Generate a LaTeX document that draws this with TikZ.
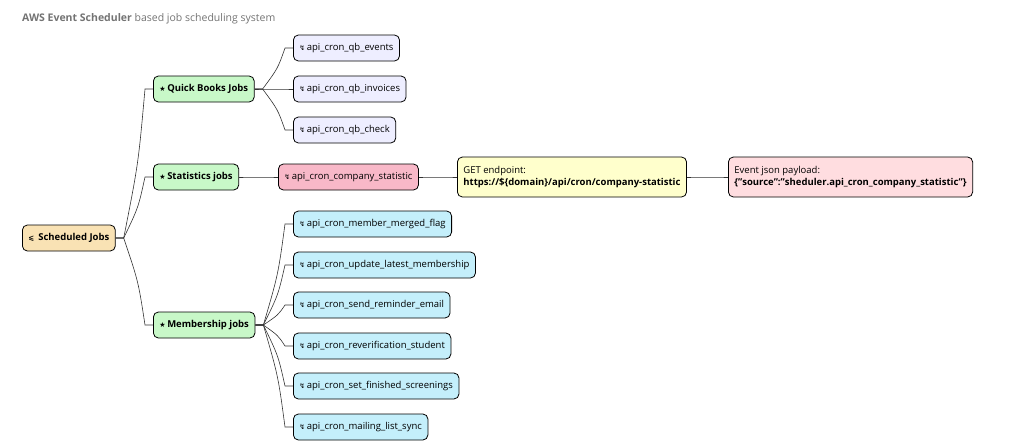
\documentclass[tikz,border=0pt]{standalone}
\usepackage{fontspec}
\setmainfont{Open Sans}
\newfontfamily\symf{DejaVu Sans}
\usetikzlibrary{calc}
\begin{document}
\begin{tikzpicture}[x=1pt,y=-1pt,
 box/.style={draw=black,line width=0.8pt,rounded corners=5pt,anchor=west,font=\fontsize{9.5}{11.5}\selectfont,inner xsep=6pt,minimum height=26pt},
 root/.style={box,fill=rootc,font=\fontsize{9.5}{11.5}\selectfont\bfseries},
 grp/.style={box,fill=grpc,font=\fontsize{9.5}{11.5}\selectfont\bfseries},
 qb/.style={box,fill=qbc},
 mem/.style={box,fill=memc},
 link/.style={line width=0.6pt,draw=black!80}]
\definecolor{rootc}{HTML}{F9E2B4}
\definecolor{grpc}{HTML}{C8F8C8}
\definecolor{qbc}{HTML}{EEEEFF}
\definecolor{memc}{HTML}{C4EFFB}
\definecolor{statc}{HTML}{F8B8C8}
\definecolor{getc}{HTML}{FFFFCC}
\definecolor{evc}{HTML}{FFDDE0}
\useasboundingbox (0,0) rectangle (1024,447);
\newcommand\ic{{\symf\scriptsize ↯}\,}
\newcommand\st{{\symf\scriptsize ★}\,}
\node[anchor=west,text=black!55,font=\fontsize{10.5}{12}\selectfont,inner sep=0pt] (title) at (22,19) {\textbf{AWS Event Scheduler} based job scheduling system};
\node[root] (r) at (22,238) {{\symf\scriptsize ⩽}\, Scheduled Jobs};
\node[grp] (q) at (153,89) {\st Quick Books Jobs};
\node[grp] (s) at (153,177) {\st Statistics jobs};
\node[grp] (m) at (153,325) {\st Membership jobs};
\node[qb] (q1) at (293,48) {\ic api\_cron\_qb\_events};
\node[qb] (q2) at (293,89) {\ic api\_cron\_qb\_invoices};
\node[qb] (q3) at (293,130) {\ic api\_cron\_qb\_check};
\node[box,fill=statc] (s1) at (278,177) {\ic api\_cron\_company\_statistic};
\node[box,fill=getc,align=left,minimum height=40pt] (g) at (457,177) {GET endpoint:\\\textbf{https://\$\{domain\}/api/cron/company-statistic}};
\node[box,fill=evc,align=left,minimum height=40pt] (e) at (728,177) {Event json payload:\\\textbf{\{"source":"sheduler.api\_cron\_company\_statistic"\}}};
\node[mem] (m1) at (293,224) {\ic api\_cron\_member\_merged\_flag};
\node[mem] (m2) at (293,265) {\ic api\_cron\_update\_latest\_membership};
\node[mem] (m3) at (293,305) {\ic api\_cron\_send\_reminder\_email};
\node[mem] (m4) at (293,346) {\ic api\_cron\_reverification\_student};
\node[mem] (m5) at (293,386) {\ic api\_cron\_set\_finished\_screenings};
\node[mem] (m6) at (293,427) {\ic api\_cron\_mailing\_list\_sync};
\foreach \p/\c in {r/q,r/s,r/m,q/q1,q/q2,q/q3,s/s1,s1/g,g/e,m/m1,m/m2,m/m3,m/m4,m/m5,m/m6}{
 \draw[link] (\p.east) -- ++(8,0) coordinate (a) .. controls ($(a)!0.5!(\c.west)$ |- a) and ($(a)!0.5!(\c.west)$ |- \c.west) .. ($(\c.west)+(-8,0)$) -- (\c.west);
}
\end{tikzpicture}
\end{document}
